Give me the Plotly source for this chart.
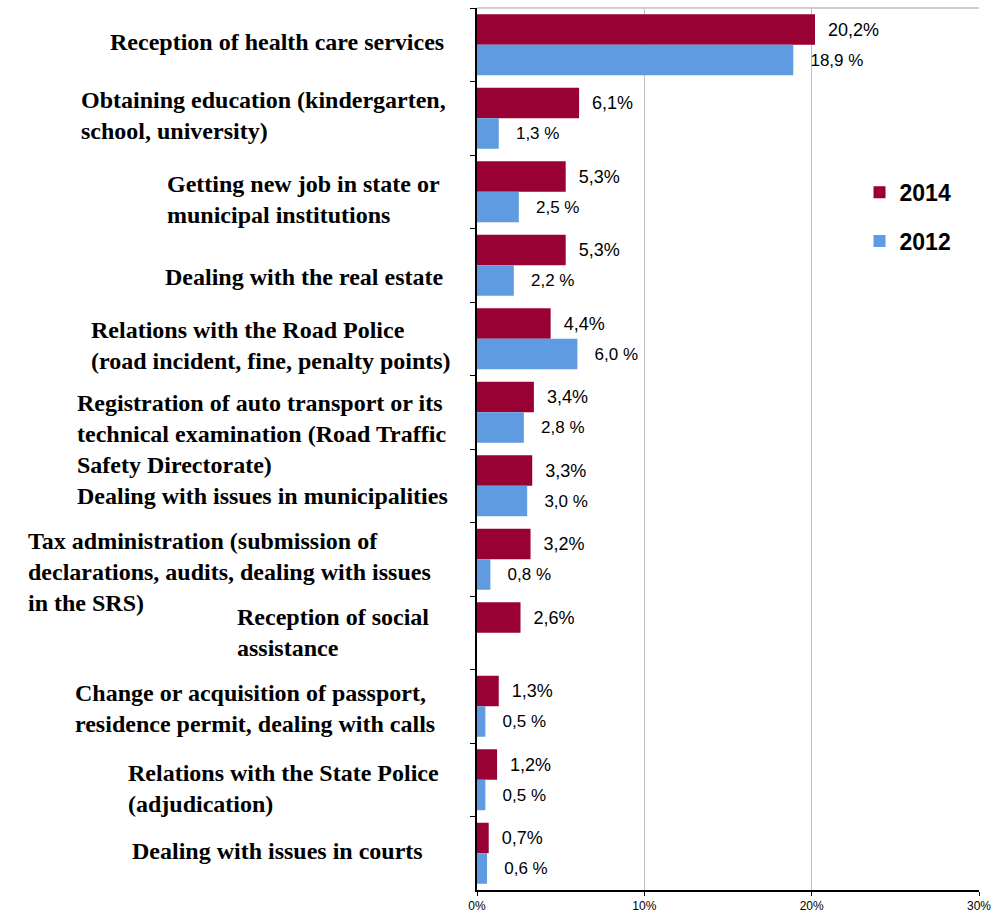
import plotly.graph_objects as go

# Survey categories (top to bottom) and their wrapped display labels
categories = [
    "Reception of health care services",
    "Obtaining education (kindergarten, school, university)",
    "Getting new job in state or municipal institutions",
    "Dealing with the real estate",
    "Relations with the Road Police (road incident, fine, penalty points)",
    "Registration of auto transport or its technical examination (Road Traffic Safety Directorate)",
    "Dealing with issues in municipalities",
    "Tax administration (submission of declarations, audits, dealing with issues in the SRS)",
    "Reception of social assistance",
    "Change or acquisition of passport, residence permit, dealing with calls",
    "Relations with the State Police (adjudication)",
    "Dealing with issues in courts",
]
category_labels = [
    "Reception of health care services",
    "Obtaining education (kindergarten,<br>school, university)",
    "Getting new job in state or<br>municipal institutions",
    "Dealing with the real estate",
    "Relations with the Road Police<br>(road incident, fine, penalty points)",
    "Registration of auto transport or its<br>technical examination (Road Traffic<br>Safety Directorate)",
    "Dealing with issues in municipalities",
    "Tax administration (submission of<br>declarations, audits, dealing with issues<br>in the SRS)",
    "Reception of social<br>assistance",
    "Change or acquisition of passport,<br>residence permit, dealing with calls",
    "Relations with the State Police<br>(adjudication)",
    "Dealing with issues in courts",
]

# Share of respondents (%)
values_2014 = [20.2, 6.1, 5.3, 5.3, 4.4, 3.4, 3.3, 3.2, 2.6, 1.3, 1.2, 0.7]
values_2012 = [18.9, 1.3, 2.5, 2.2, 6.0, 2.8, 3.0, 0.8, None, 0.5, 0.5, 0.6]

x_ticks = [0, 10, 20, 30]

# Label placement: horizontal centre (px from page left) and vertical nudge (px)
label_center_px = [276, 262, 302, 303, 270, 260, 261, 228, 332, 254, 282, 276]
label_nudge_px = [-3, -3, 8, 12, 7, 22, 10, 13, 0, 2, 9, -2]

NB = "\u00a0"


def fmt(v, sep):
    if v is None:
        return ""
    return f"{v:.1f}".replace(".", ",") + sep + "%"


PLOT_LEFT, PLOT_WIDTH = 477, 505

fig = go.Figure()
fig.add_trace(go.Bar(
    name="2014", y=categories, x=values_2014, orientation="h",
    marker=dict(color="#990033", line=dict(width=0)),
    text=[NB * 2 + fmt(v, "") for v in values_2014],
    textposition="outside", cliponaxis=False,
    textfont=dict(family="Liberation Sans, Arial, sans-serif", size=18, color="black"),
    legendgroup="a",
))
fig.add_trace(go.Bar(
    name="2012", y=categories, x=values_2012, orientation="h",
    marker=dict(color="#5E9BE0", line=dict(width=0)),
    text=[NB * 3 + fmt(v, " ") if v is not None else "" for v in values_2012],
    textposition="outside", cliponaxis=False,
    textfont=dict(family="Liberation Sans, Arial, sans-serif", size=17, color="black"),
    legendgroup="b",
))

annotations = []
for cat, lab, cx, dy in zip(categories, category_labels, label_center_px, label_nudge_px):
    annotations.append(dict(
        xref="paper", yref="y", x=(cx - PLOT_LEFT) / PLOT_WIDTH, y=cat,
        xanchor="center", yanchor="middle", align="left",
        yshift=-dy, text=lab, showarrow=False,
        font=dict(family="Liberation Serif, Times New Roman, serif", size=24,
                  color="black", weight="bold"),
    ))

fig.update_layout(
    width=999, height=921,
    margin=dict(l=PLOT_LEFT, r=17, t=8, b=24),
    paper_bgcolor="white", plot_bgcolor="white",
    barmode="group", bargap=0.17, bargroupgap=0,
    showlegend=True,
    legend=dict(
        x=0.762, y=0.8155, xanchor="left", yanchor="top",
        font=dict(family="Liberation Sans, Arial, sans-serif", size=23, color="black", weight="bold"),
        tracegroupgap=16, bgcolor="rgba(0,0,0,0)",
    ),
    xaxis=dict(
        range=[0, 30], tickvals=x_ticks, ticktext=[f"{t}%" for t in x_ticks],
        showgrid=True, gridcolor="#C0C0C0", gridwidth=1,
        showline=True, linecolor="black", linewidth=1.5,
        ticks="outside", ticklen=4, tickcolor="black",
        tickfont=dict(family="Liberation Sans, Arial, sans-serif", size=12, color="black"),
        zeroline=False, fixedrange=True,
    ),
    yaxis=dict(
        categoryorder="array", categoryarray=categories, autorange="reversed",
        showticklabels=False, showgrid=False,
        showline=True, linecolor="black", linewidth=1.5,
        ticks="outside", ticklen=5, tickcolor="black", tickson="boundaries",
        zeroline=False,
    ),
    annotations=annotations,
    shapes=[dict(type="line", xref="paper", yref="paper", x0=0, x1=1, y0=1, y1=1,
                 line=dict(color="#C0C0C0", width=1.5))],
)

fig.write_html("out.html")
